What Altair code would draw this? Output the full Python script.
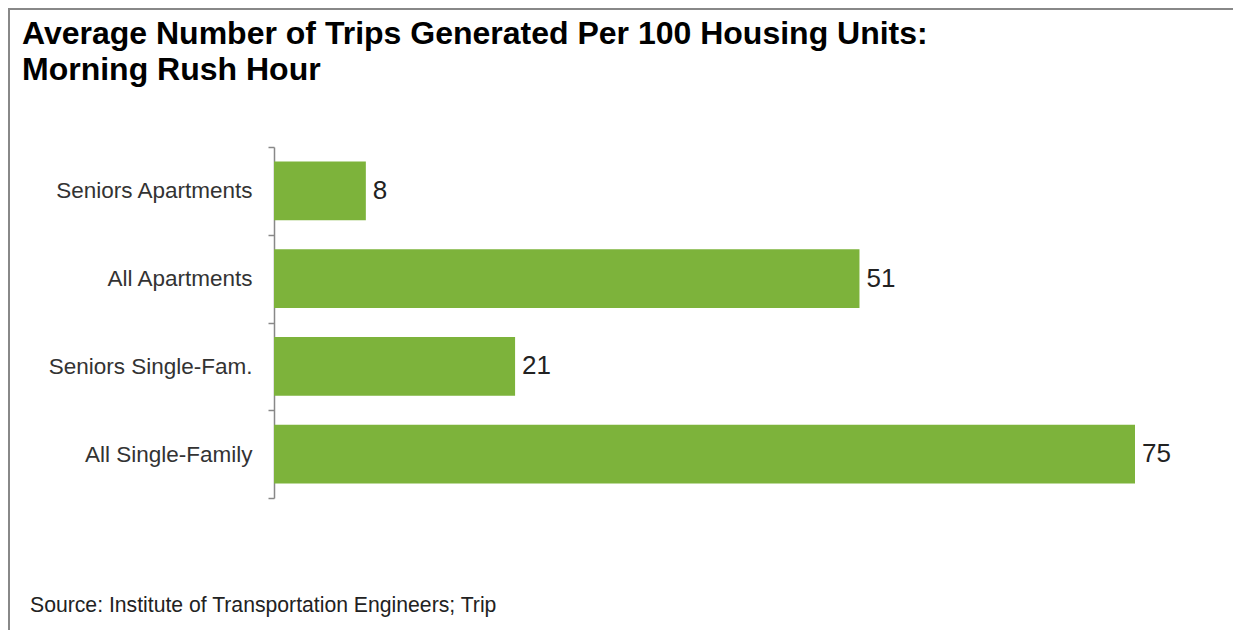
import altair as alt
import pandas as pd

categories = ["Seniors Apartments", "All Apartments", "Seniors Single-Fam.", "All Single-Family"]
values = [8, 51, 21, 75]
labels = ["8", "51", "21", "75"]

title_lines = ["Average Number of Trips Generated Per 100 Housing Units:", "Morning Rush Hour"]
source_text = "Source: Institute of Transportation Engineers; Trip"

df = pd.DataFrame({"category": categories, "value": values, "label": labels})

FONT = "Liberation Sans"
PLOT_W = 861
PLOT_H = 351

y_enc = alt.Y(
    "category:N",
    sort=categories,
    scale=alt.Scale(paddingInner=0, paddingOuter=0),
    axis=alt.Axis(
        title=None,
        labelFont=FONT,
        labelFontSize=22.5,
        labelColor="#333333",
        labelPadding=16,
        labelLimit=400,
        domainColor="#888888",
        domainWidth=1.5,
        tickColor="#888888",
        tickWidth=1.5,
        tickSize=6,
        tickBand="extent",
    ),
)
x_enc = alt.X(
    "value:Q",
    scale=alt.Scale(domain=[0, 75], nice=False),
    axis=None,
)

bars = alt.Chart(df).mark_bar(
    color="#7db33b", height=alt.RelativeBandSize(band=0.67)
).encode(x=x_enc, y=y_enc)

text = alt.Chart(df).mark_text(
    align="left", baseline="middle", dx=7, font=FONT, fontSize=26, color="#222222"
).encode(x=x_enc, y=alt.Y("category:N", sort=categories), text="label:N")

title = alt.Chart(pd.DataFrame({"t": ["\n".join(title_lines)]})).mark_text(
    align="left", baseline="alphabetic", font=FONT, fontSize=32, fontWeight="bold",
    color="#000000", lineBreak="\n", lineHeight=36,
).encode(x=alt.value(-252), y=alt.value(-103), text="t:N")

source = alt.Chart(pd.DataFrame({"t": [source_text]})).mark_text(
    align="left", baseline="middle", font=FONT, fontSize=21.2, color="#222222",
).encode(x=alt.value(-244), y=alt.value(459), text="t:N")

border_top = alt.Chart(pd.DataFrame({"a": [0]})).mark_rule(color="#888888", strokeWidth=2).encode(
    x=alt.value(-266), x2=alt.value(PLOT_W + 98), y=alt.value(-138)
)
border_left = alt.Chart(pd.DataFrame({"a": [0]})).mark_rule(color="#888888", strokeWidth=2).encode(
    x=alt.value(-265), y=alt.value(-139), y2=alt.value(PLOT_H + 132)
)

chart = alt.layer(border_top, border_left, bars, text, title, source).properties(
    width=PLOT_W,
    height=PLOT_H,
    padding={"left": 266, "top": 139, "right": 98, "bottom": 132},
    autosize=alt.AutoSizeParams(type="none"),
    background="white",
).configure_view(stroke=None)

chart.save("out.html", embed_options={"renderer": "svg", "actions": False})
